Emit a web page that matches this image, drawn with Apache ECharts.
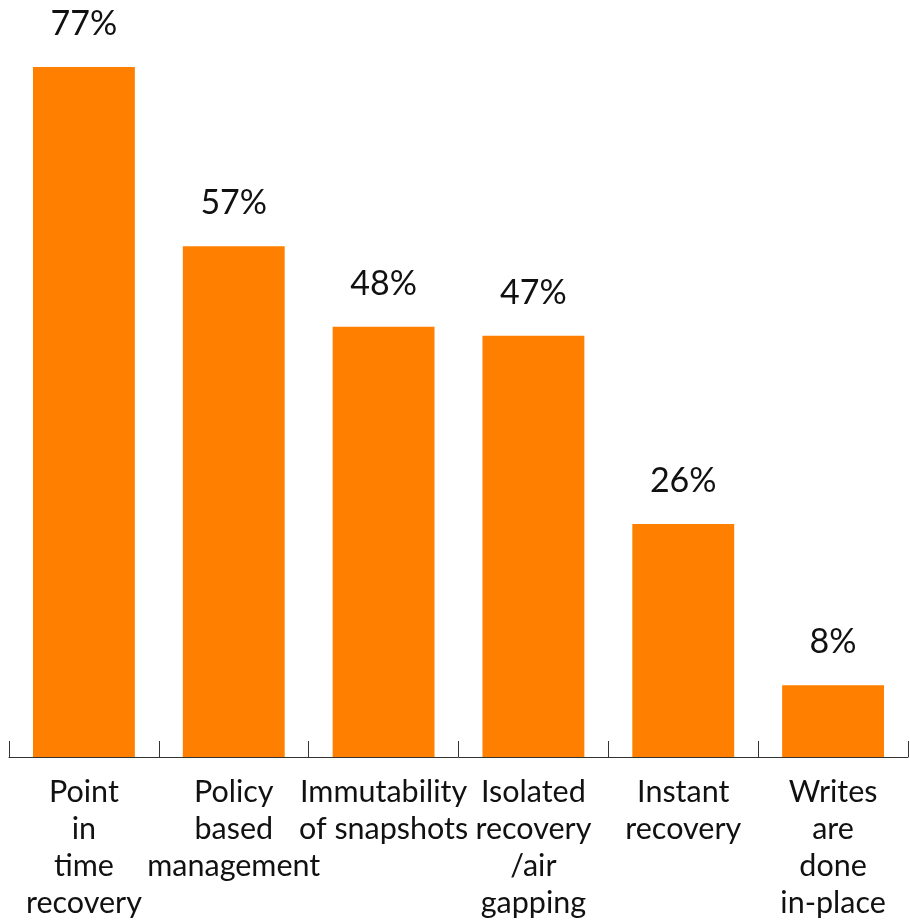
<!DOCTYPE html>
<html><head><meta charset="utf-8">
<script src="https://cdn.jsdelivr.net/npm/echarts@6/dist/echarts.min.js"></script>
<style>html,body{margin:0;padding:0;background:#fff}#c{width:910px;height:922px}</style>
</head><body><div id="c"></div>
<script>
const categories = ["Point\nin\ntime\nrecovery", "Policy\nbased\nmanagement", "Immutability\nof snapshots", "Isolated\nrecovery\n/air\ngapping", "Instant\nrecovery", "Writes\nare\ndone\nin-place"];
const values = [77, 57, 48, 47, 26, 8];
const FONT = "Lato";
const chart = echarts.init(document.getElementById('c'));
chart.setOption({
  animation: false,
  grid: {left: 9, right: 2, top: 67, bottom: 164},
  xAxis: {
    type: 'category', data: categories,
    axisLine: {show: true, lineStyle: {color: '#333', width: 1}},
    axisTick: {show: true, inside: true, length: 16, lineStyle: {color: '#333', width: 1}},
    axisLabel: {color: '#111', fontFamily: FONT, fontSize: 30.5, lineHeight: 37, margin: 17, interval: 0}
  },
  yAxis: {type: 'value', min: 0, max: 77, show: false, splitLine: {show: false}},
  series: [{
    type: 'bar', data: values, barWidth: '68%', itemStyle: {color: '#FF8000'},
    label: {show: true, position: 'top', distance: 26, formatter: '{c}%', color: '#111', fontFamily: FONT, fontSize: 34}
  }]
});
</script></body></html>
